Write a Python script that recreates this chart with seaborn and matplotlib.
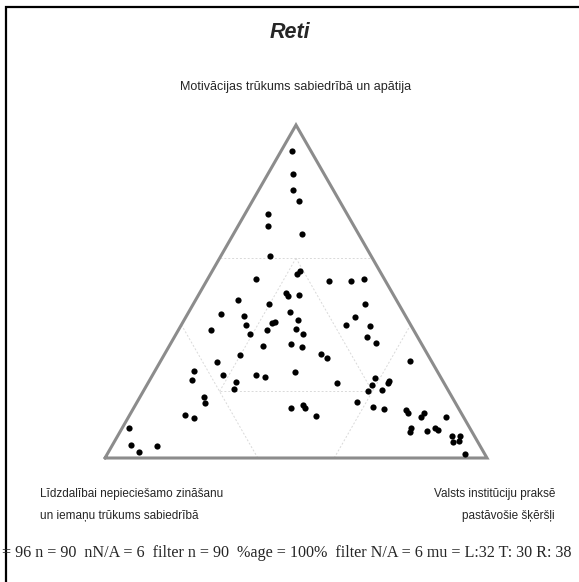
import numpy as np
import pandas as pd
import seaborn as sns
import matplotlib.pyplot as plt
from matplotlib.patches import Rectangle

# ternary shares (percent): left, top, right corners
left = [5.0, 8.3, 10.7, 10.6, 20.7, 22.4, 14.7, 26.4, 22.2, 20.8,
        33.6, 14.8, 9.0, 5.4, 27.9, 27.7, 24.8, 41.4, 33.8, 8.9,
        48.0, 42.3, 29.8, 28.8, 13.4, 43.2, 36.0, 35.1, 16.9, 10.7,
        53.2, 38.4, 30.5, 43.6, 29.6, 13.4, 11.8, 41.8, 34.3, 31.7,
        49.3, 27.8, 26.8, 56.3, 5.7, 63.5, 65.6, 56.8, 48.0, 46.1,
        37.4, 54.2, 55.9, 17.4, 14.0, 14.7, 28.0, 19.1, 17.3, 21.1,
        65.0, 65.4, 43.9, 25.8, 40.2, 40.2, 22.2, 19.6, 38.5, 72.5,
        70.7, 14.1, 14.0, 9.7, 11.0, 4.5, 15.4, 16.3, 11.6, 9.2,
        8.7, 5.9, 3.8, 6.4, 4.8, 5.2, 89.3, 91.2, 90.3, 84.5]
top = [92.3, 85.2, 80.4, 77.3, 73.3, 69.8, 67.4, 60.7, 55.3, 56.2,
       53.8, 53.2, 53.2, 53.8, 49.5, 48.7, 49.0, 47.4, 46.3, 46.3,
       43.2, 42.7, 43.8, 41.4, 42.3, 39.9, 40.5, 40.8, 39.9, 39.6,
       38.3, 38.5, 38.8, 37.1, 37.1, 36.2, 34.6, 33.6, 34.1, 33.2,
       30.8, 31.2, 30.0, 28.9, 29.0, 26.2, 23.5, 24.8, 24.8, 24.2,
       25.7, 22.8, 20.7, 24.0, 23.1, 22.5, 22.4, 21.8, 20.5, 20.1,
       18.2, 16.6, 15.0, 16.7, 15.9, 15.1, 15.4, 14.7, 12.7, 12.9,
       11.9, 14.4, 13.6, 13.5, 12.4, 12.3, 8.9, 7.7, 8.2, 8.9,
       8.5, 6.6, 6.6, 4.8, 5.1, 1.3, 8.9, 3.8, 1.8, 3.7]
right = [2.7, 6.5, 8.9, 12.1, 6.0, 7.8, 17.9, 12.9, 22.5, 23.0,
         12.6, 32.0, 37.8, 40.8, 22.6, 23.6, 26.2, 11.2, 19.9, 44.8,
         8.8, 15.0, 26.4, 29.8, 44.3, 16.9, 23.5, 24.1, 43.2, 49.7,
         8.5, 23.1, 30.7, 19.3, 33.3, 50.4, 53.6, 24.6, 31.6, 35.1,
         19.9, 41.0, 43.2, 14.8, 65.3, 10.3, 10.9, 18.4, 27.2, 29.7,
         36.9, 23.0, 23.4, 58.6, 62.9, 62.8, 49.6, 59.1, 62.2, 58.8,
         16.8, 18.0, 41.1, 57.5, 43.9, 44.7, 62.4, 65.7, 48.8, 14.6,
         17.4, 71.5, 72.4, 76.8, 76.6, 83.2, 75.7, 76.0, 80.2, 81.9,
         82.8, 87.5, 89.6, 88.8, 90.1, 93.5, 1.8, 5.0, 7.9, 11.8]

title = "Reti"
label_top = "Motivācijas trūkums sabiedrībā un apātija"
label_left = "Līdzdalībai nepieciešamo zināšanu\nun iemaņu trūkums sabiedrībā"
label_right = "Valsts institūciju praksē\npastāvošie šķēršļi"
footer = ("= 96 n = 90  nN/A = 6  filter n = 90  %age = 100%  "
          "filter N/A = 6 mu = L:32 T: 30 R: 38")

H = np.sqrt(3) / 2


def to_xy(l, t, r):
    l, t, r = np.asarray(l, float), np.asarray(t, float), np.asarray(r, float)
    s = l + t + r
    return (r + t / 2) / s, t * H / s


x, y = to_xy(left, top, right)
df = pd.DataFrame({"x": x, "y": y})

sns.set_style("white")
plt.rcParams["font.family"] = ["Liberation Sans", "DejaVu Sans"]

W, Hpx = 579, 582
fig = plt.figure(figsize=(W / 100, Hpx / 100), dpi=100)
ax = fig.add_axes([105 / W, (Hpx - 458) / Hpx, 382 / W, 333 / Hpx])
ax.set_xlim(0, 1)
ax.set_ylim(0, H)
ax.axis("off")

# light dashed guide lines
grid_lines = [
    ((40, 60, 0), (0, 60, 40)),
    ((60, 40, 0), (60, 0, 40)),
    ((40, 0, 60), (0, 40, 60)),
    ((20, 60, 20), (60, 20, 20)),
    ((60, 20, 20), (20, 20, 60)),
    ((20, 20, 60), (20, 60, 20)),
]
for a, b in grid_lines:
    gx, gy = to_xy([a[0], b[0]], [a[1], b[1]], [a[2], b[2]])
    ax.plot(gx, gy, color="#d9d9d9", lw=0.7, ls=(0, (2, 2)), zorder=1)

# outer triangle
tx, ty = to_xy([100, 0, 0, 100], [0, 0, 100, 0], [0, 100, 0, 0])
ax.plot(tx, ty, color="#8c8c8c", lw=2.2, solid_joinstyle="miter",
        clip_on=False, zorder=2)

sns.scatterplot(data=df, x="x", y="y", ax=ax, color="black", s=20,
                linewidth=0, clip_on=False, zorder=3, legend=False)

fig.text(290 / W, 1 - 32 / Hpx, title, ha="center", va="center",
         fontsize=15.5, fontweight="bold", fontstyle="italic")
fig.text(296 / W, 1 - 87 / Hpx, label_top, ha="center", va="center",
         fontsize=9)
fig.text(40 / W, 1 - 505 / Hpx, label_left, ha="left", va="center",
         fontsize=8.5, linespacing=2.1)
fig.text(555 / W, 1 - 505 / Hpx, label_right, ha="right", va="center",
         fontsize=8.5, linespacing=2.1, multialignment="right")
fig.text(2 / W, 1 - 553 / Hpx, footer, ha="left", va="center",
         fontsize=11.6, family=["Liberation Serif", "DejaVu Serif"])

fig.patches.append(Rectangle((6 / W, -0.1), 1.2, 1 - 7 / Hpx + 0.1,
                             transform=fig.transFigure, fill=False,
                             lw=1.6, ec="black"))

fig.savefig("out.png", dpi=100)
